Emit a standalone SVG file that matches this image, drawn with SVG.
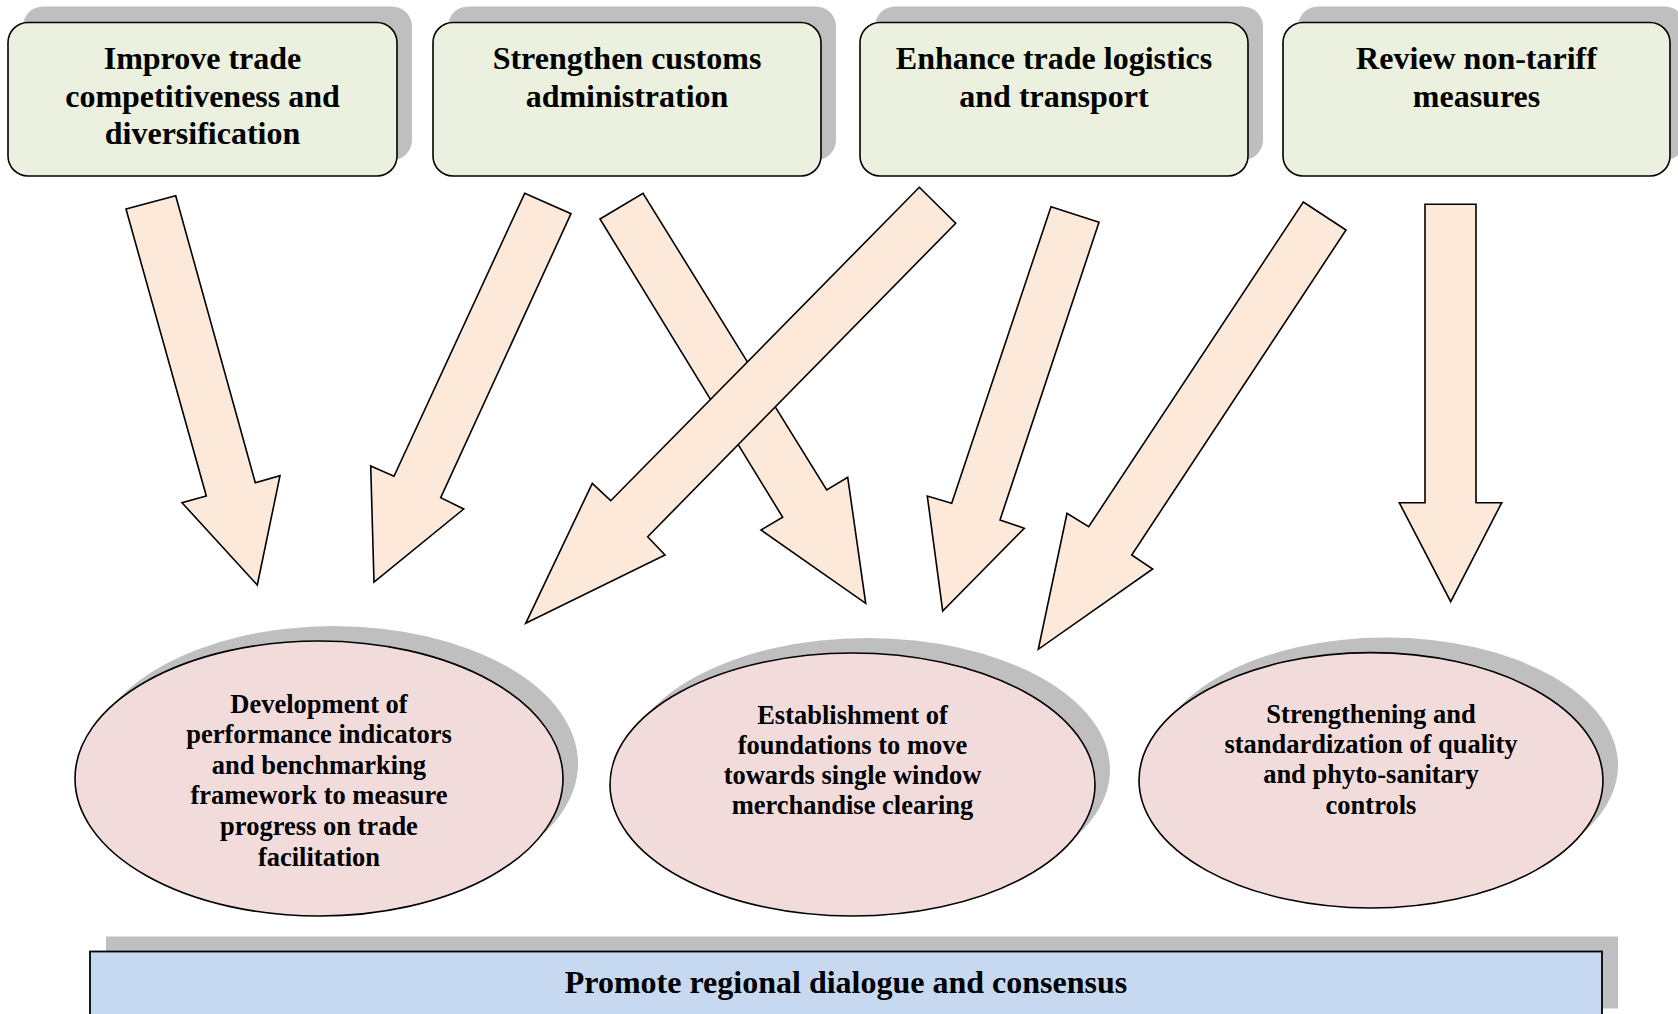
<svg xmlns="http://www.w3.org/2000/svg" width="1678" height="1014" viewBox="0 0 1678 1014">
<style>
.shadow{fill:#BFBFBF;stroke:none}
.box{fill:#EBF1DE;stroke:#000;stroke-width:1.6}
.oval{fill:#F2DCDB;stroke:#000;stroke-width:1.6}
.bar{fill:#C6D9F1;stroke:#000;stroke-width:1.8}
.arrow{fill:#FDE9D9;stroke:#000;stroke-width:1.6;stroke-linejoin:miter}
.t32{font-family:"Liberation Serif","Times New Roman",serif;font-weight:bold;font-size:32px;text-anchor:middle;fill:#000}
.t26{font-family:"Liberation Serif","Times New Roman",serif;font-weight:bold;font-size:26.5px;text-anchor:middle;fill:#000}
</style>
<rect width="1678" height="1014" fill="#fff"/>

<g id="box1">
<rect class="shadow" x="23" y="6.5" width="389" height="153.5" rx="20"/>
<rect class="box" x="8" y="22.5" width="389" height="153.5" rx="20"/>
<text class="t32" x="202.5" y="69">Improve trade</text>
<text class="t32" x="202.5" y="106.5">competitiveness and</text>
<text class="t32" x="202.5" y="144">diversification</text>
</g>

<g id="box2">
<rect class="shadow" x="448" y="6.5" width="388" height="153.5" rx="20"/>
<rect class="box" x="433" y="22.5" width="388" height="153.5" rx="20"/>
<text class="t32" x="627" y="69">Strengthen customs</text>
<text class="t32" x="627" y="106.5">administration</text>
</g>

<g id="box3">
<rect class="shadow" x="875" y="6.5" width="388" height="153.5" rx="20"/>
<rect class="box" x="860" y="22.5" width="388" height="153.5" rx="20"/>
<text class="t32" x="1054" y="69">Enhance trade logistics</text>
<text class="t32" x="1054" y="106.5">and transport</text>
</g>

<g id="box4">
<rect class="shadow" x="1298" y="6.5" width="387" height="153.5" rx="20"/>
<rect class="box" x="1283" y="22.5" width="387" height="153.5" rx="20"/>
<text class="t32" x="1476.5" y="69">Review non-tariff</text>
<text class="t32" x="1476.5" y="106.5">measures</text>
</g>

<g id="connectors">
<polygon class="arrow" points="126,209 175.7,195.7 255.3,482.7 280,475.7 257.3,585 182,502.7 206.3,496"/>
<polygon class="arrow" points="524.7,193.3 571,213.7 440.7,497.7 463.7,509 374,582 370.7,466 394,476.3"/>
<polygon class="arrow" points="600,219 643,193.3 826.7,490 847.7,477.3 865.7,603.3 761,530 782.7,517.3"/>
<polygon class="arrow" points="919.3,187.3 955.7,223.3 647.7,536.7 665,555 525.7,623.3 592.3,483.3 610.7,500.7"/>
<polygon class="arrow" points="1051,206.7 1099,222.3 1000,520 1024.3,528.3 942.7,611 927.3,496 951.7,503.3"/>
<polygon class="arrow" points="1303.3,202 1346,230 1131.7,555 1152.7,569 1038.3,649.3 1067,513.3 1088.7,526.7"/>
<polygon class="arrow" points="1425,204.3 1476,204.3 1476,502.7 1501.7,502.7 1450.7,601.7 1399.3,502.7 1425,502.7"/>
</g>

<g id="oval1">
<ellipse class="shadow" cx="334" cy="763.5" rx="244" ry="137.5"/>
<ellipse class="oval" cx="319" cy="778.5" rx="244" ry="137.5"/>
<text class="t26" x="319" y="712.5">Development of</text>
<text class="t26" x="319" y="743">performance indicators</text>
<text class="t26" x="319" y="773.7">and benchmarking</text>
<text class="t26" x="319" y="804.3">framework to measure</text>
<text class="t26" x="319" y="835">progress on trade</text>
<text class="t26" x="319" y="865.5">facilitation</text>
</g>

<g id="oval2">
<ellipse class="shadow" cx="867.5" cy="769.5" rx="242.5" ry="131.5"/>
<ellipse class="oval" cx="852.5" cy="784.5" rx="242.5" ry="131.5"/>
<text class="t26" x="852.5" y="724">Establishment of</text>
<text class="t26" x="852.5" y="754">foundations to move</text>
<text class="t26" x="852.5" y="784.3">towards single window</text>
<text class="t26" x="852.5" y="814.3">merchandise clearing</text>
</g>

<g id="oval3">
<ellipse class="shadow" cx="1386" cy="765.3" rx="232" ry="127.7"/>
<ellipse class="oval" cx="1371" cy="780.3" rx="232" ry="127.7"/>
<text class="t26" x="1371" y="722.7">Strengthening and</text>
<text class="t26" x="1371" y="753.3">standardization of quality</text>
<text class="t26" x="1371" y="783.3">and phyto-sanitary</text>
<text class="t26" x="1371" y="814">controls</text>
</g>

<g id="bar">
<rect class="shadow" x="106" y="936.5" width="1512" height="72"/>
<rect class="bar" x="90" y="951.5" width="1512" height="80"/>
<text class="t32" x="846" y="993">Promote regional dialogue and consensus</text>
</g>
</svg>
